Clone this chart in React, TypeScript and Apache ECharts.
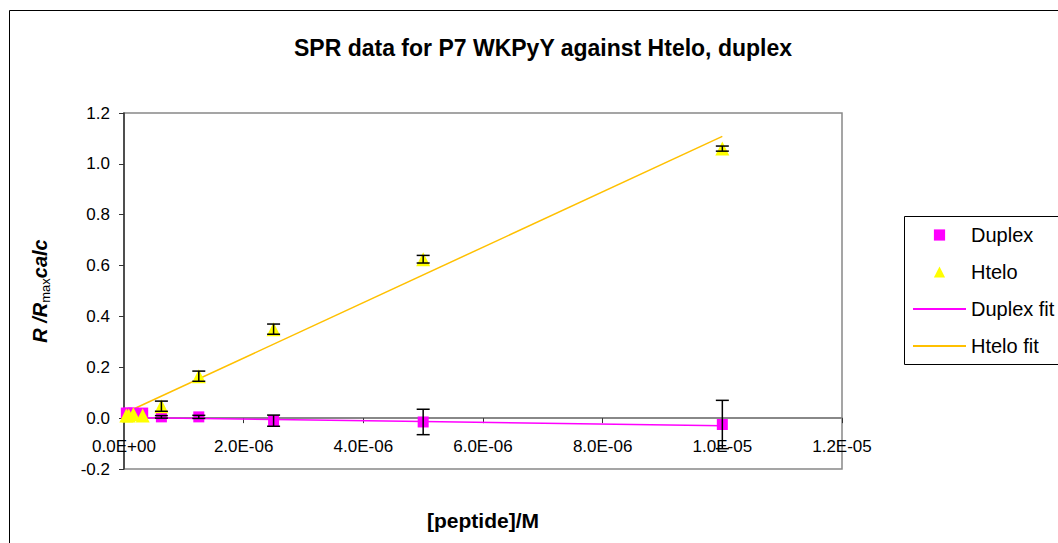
import React, { useEffect, useRef } from "react";
import * as echarts from "echarts";

const concentrations = [3.9e-8, 7.8e-8, 1.5625e-7, 3.125e-7, 6.25e-7, 1.25e-6, 2.5e-6, 5e-6, 1e-5];
const duplexValues = [0.02, 0.02, 0.02, 0.02, 0.005, 0.005, -0.01, -0.015, -0.025];
const duplexErrors = [0, 0, 0, 0, 0.005, 0.006, 0.022, 0.05, 0.095];
const hteloValues = [0.01, 0.01, 0.015, 0.01, 0.047, 0.165, 0.35, 0.625, 1.06];
const hteloErrors = [0, 0, 0, 0, 0.02, 0.02, 0.02, 0.015, 0.01];

const duplexFitX = [3.9e-8, 2.5e-6, 5e-6, 1e-5];
const duplexFitY = [0.003, -0.005, -0.013, -0.03];
const hteloFitX = [7.8e-8, 1e-5];
const hteloFitY = [0.027, 1.108];

const xTicks = { min: 0, max: 1.2e-5, interval: 2e-6 };
const yTicks = { min: -0.2, max: 1.2, interval: 0.2 };

const FONT = "Liberation Sans";
const GRID_TOP = 113;
const GRID_BOTTOM = 74;
const CHART_H = 543;

function sci(v: number): string {
  const [m, e] = v.toExponential(1).split("e");
  const n = parseInt(e, 10);
  return m + "E" + (n < 0 ? "-" : "+") + String(Math.abs(n)).padStart(2, "0");
}

export default function App() {
  const ref = useRef<HTMLDivElement>(null);
  useEffect(() => {
    if (!ref.current) return;
    const chart = echarts.init(ref.current, null, { renderer: "svg" });
    const pairs = (xs: number[], ys: number[]) => xs.map((x, i) => [x, ys[i]]);
    const errData = (vals: number[], errs: number[]) =>
      concentrations.map((x, i) => [x, vals[i] - errs[i], vals[i] + errs[i]]);
    const errSeries = (name: string, vals: number[], errs: number[]) => ({
      type: "custom",
      name,
      z: 10,
      data: errData(vals, errs),
      renderItem: (params: any, api: any) => {
        const x = api.value(0);
        if (api.value(2) - api.value(1) <= 0) return null;
        const p1 = api.coord([x, api.value(2)]);
        const p2 = api.coord([x, api.value(1)]);
        const w = 6.5;
        const st = { stroke: "#000", lineWidth: 1.5 };
        return {
          type: "group",
          children: [
            { type: "line", shape: { x1: p1[0], y1: p1[1], x2: p2[0], y2: p2[1] }, style: st },
            { type: "line", shape: { x1: p1[0] - w, y1: p1[1], x2: p1[0] + w, y2: p1[1] }, style: st },
            { type: "line", shape: { x1: p2[0] - w, y1: p2[1], x2: p2[0] + w, y2: p2[1] }, style: st },
          ],
        };
      },
    });
    // the x axis crosses at y = 0: shift it up from the grid bottom by the height of the -0.2..0 band
    const plotH = CHART_H - GRID_TOP - GRID_BOTTOM;
    const zeroShift = (plotH * (0 - yTicks.min)) / (yTicks.max - yTicks.min);
    const hiddenMarker = { opacity: 0, color: "transparent" };
    chart.setOption({
      animation: false,
      backgroundColor: "#fff",
      textStyle: { fontFamily: FONT },
      title: {
        text: "SPR data for P7 WKPyY against Htelo, duplex",
        left: 538,
        top: 31,
        textAlign: "center",
        textStyle: { fontFamily: FONT, fontWeight: "bold", fontSize: 23, color: "#000" },
      },
      grid: {
        left: 124,
        right: 216,
        top: GRID_TOP,
        bottom: GRID_BOTTOM,
        outerBoundsMode: "none",
        containLabel: false,
        show: true,
        borderColor: "#888",
        borderWidth: 1.5,
        backgroundColor: "transparent",
      },
      legend: {
        orient: "vertical",
        left: 912,
        top: 225,
        padding: 0,
        itemWidth: 53,
        itemHeight: 14,
        itemGap: 17,
        data: [
          { name: "Duplex", icon: "inherit" },
          { name: "Htelo", icon: "inherit" },
          { name: "Duplex fit", itemStyle: hiddenMarker },
          { name: "Htelo fit", itemStyle: hiddenMarker },
        ],
        textStyle: { fontFamily: FONT, fontSize: 20, lineHeight: 20, color: "#000" },
      },
      xAxis: {
        type: "value",
        min: xTicks.min,
        max: xTicks.max,
        interval: xTicks.interval,
        name: "[peptide]/M",
        nameLocation: "middle",
        nameGap: 92,
        offset: -zeroShift,
        nameTextStyle: { fontFamily: FONT, fontWeight: "bold", fontSize: 21, color: "#000" },
        axisLine: { onZero: false, lineStyle: { color: "#888", width: 2 } },
        axisTick: { show: true, inside: false, length: 5, lineStyle: { color: "#333", width: 1 } },
        axisLabel: { formatter: sci, fontSize: 17, color: "#000", margin: 20, fontFamily: FONT },
        splitLine: { show: false },
      },
      yAxis: {
        type: "value",
        min: yTicks.min,
        max: yTicks.max,
        interval: yTicks.interval,
        name: "{a|R /R}{b|max}{a|calc}",
        nameLocation: "middle",
        nameRotate: 90,
        nameGap: 72,
        nameTextStyle: {
          rich: {
            a: { fontFamily: FONT, fontWeight: "bold", fontStyle: "italic", fontSize: 20, lineHeight: 24, color: "#000" },
            b: { fontFamily: FONT, fontSize: 13, lineHeight: 13, verticalAlign: "bottom", color: "#000" },
          },
        },
        axisLine: { show: true, lineStyle: { color: "#333", width: 1.5 } },
        axisTick: { show: true, inside: false, length: 5, lineStyle: { color: "#333", width: 1 } },
        axisLabel: { formatter: (v: number) => v.toFixed(1), fontSize: 17, color: "#000", margin: 14, fontFamily: FONT },
        splitLine: { show: false },
      },
      graphic: [
        { type: "rect", shape: { x: 9.5, y: 10.5, width: 1200, height: 800 }, style: { fill: "none", stroke: "#000", lineWidth: 1 }, silent: true },
        { type: "rect", shape: { x: 904.5, y: 216.5, width: 300, height: 148 }, style: { fill: "none", stroke: "#000", lineWidth: 1 }, silent: true },
      ],
      series: [
        {
          type: "line",
          name: "Duplex fit",
          data: pairs(duplexFitX, duplexFitY),
          symbol: "none",
          lineStyle: { color: "#FF00FF", width: 1.5 },
          itemStyle: { color: "#FF00FF" },
          z: 2,
        },
        {
          type: "line",
          name: "Htelo fit",
          data: pairs(hteloFitX, hteloFitY),
          symbol: "none",
          lineStyle: { color: "#FFC000", width: 1.5 },
          itemStyle: { color: "#FFC000" },
          z: 2,
        },
        {
          type: "line",
          name: "Duplex",
          data: pairs(concentrations, duplexValues),
          symbol: "rect",
          symbolSize: 11,
          showSymbol: true,
          lineStyle: { width: 0, opacity: 0 },
          itemStyle: { color: "#FF00FF" },
          z: 3,
        },
        {
          type: "line",
          name: "Htelo",
          data: pairs(concentrations, hteloValues),
          symbol: "triangle",
          symbolSize: 14,
          showSymbol: true,
          lineStyle: { width: 0, opacity: 0 },
          itemStyle: { color: "#FFFF00" },
          z: 4,
        },
        errSeries("Duplex err", duplexValues, duplexErrors),
        errSeries("Htelo err", hteloValues, hteloErrors),
      ],
    });
    return () => chart.dispose();
  }, []);
  return (
    <div
      ref={ref}
      style={{ position: "fixed", left: 0, top: 0, width: 1058, height: 543, background: "#fff" }}
    />
  );
}
